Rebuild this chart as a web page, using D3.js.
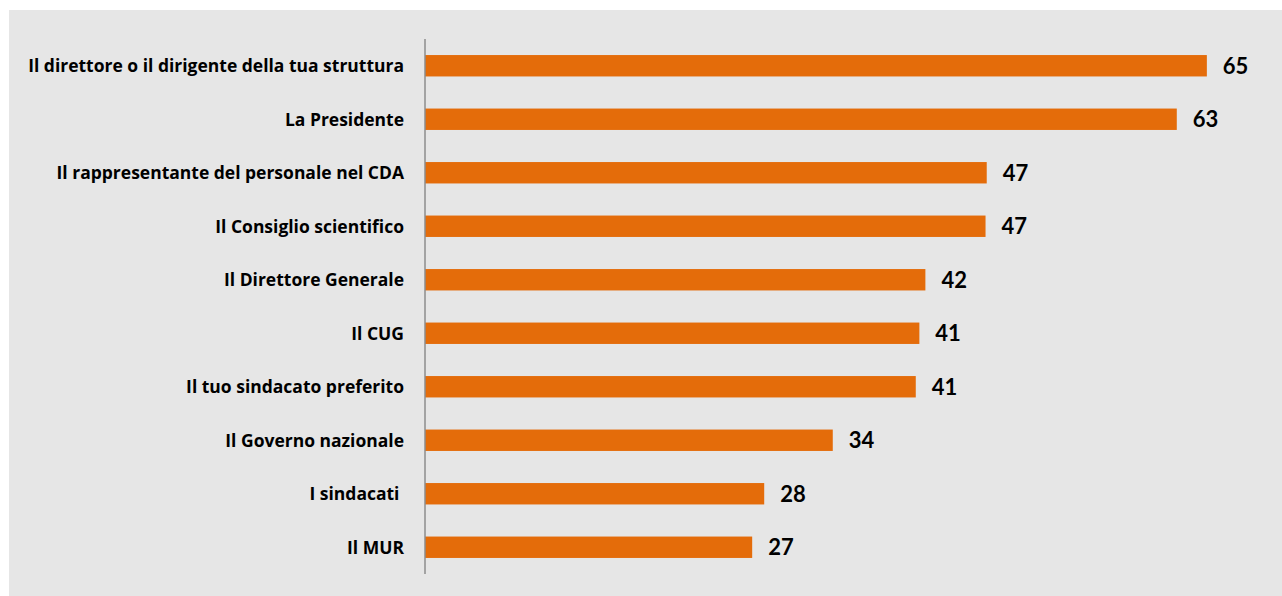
<!DOCTYPE html>
<html>
<head>
<meta charset="utf-8">
<script src="https://cdn.jsdelivr.net/npm/d3@7"></script>
<style>
  html, body { margin: 0; padding: 0; background: #fff; }
  svg { display: block; }
  text { font-weight: bold; fill: #000; }
  .cat { font-family: "Open Sans", sans-serif; white-space: pre; }
  .val { font-family: Lato, sans-serif; }
</style>
</head>
<body>
<svg id="chart" width="1282" height="596"></svg>
<script>
// Categories and values (top to bottom)
const categories = [
  "Il direttore o il dirigente della tua struttura",
  "La Presidente",
  "Il rappresentante del personale nel CDA",
  "Il Consiglio scientifico",
  "Il Direttore Generale",
  "Il CUG",
  "Il tuo sindacato preferito",
  "Il Governo nazionale",
  "I sindacati ",
  "Il MUR"
];
// bar lengths (labels are rounded)
const values = [65.0, 62.5, 46.7, 46.6, 41.6, 41.1, 40.8, 33.9, 28.2, 27.2];

const svg = d3.select("#chart");

// gray panel
svg.append("rect")
  .attr("x", 9).attr("y", 10)
  .attr("width", 1282).attr("height", 600)
  .attr("fill", "#e6e6e6");

const axisX = 425;
const x = d3.scaleLinear().domain([0, 70]).range([axisX, axisX + 842]);
const y = d3.scaleBand()
  .domain(categories)
  .range([39, 574])
  .paddingInner(0.6)
  .paddingOuter(0.3);

const data = categories.map((c, i) => ({ label: c, value: values[i] }));

// bars
svg.selectAll(".bar")
  .data(data)
  .enter().append("rect")
  .attr("class", "bar")
  .attr("x", x(0))
  .attr("y", d => y(d.label))
  .attr("width", d => x(d.value) - x(0))
  .attr("height", y.bandwidth())
  .attr("fill", "#e46c0a");

// value labels
svg.selectAll(".val")
  .data(data)
  .enter().append("text")
  .attr("class", "val")
  .attr("x", d => x(d.value) + 16)
  .attr("y", d => y(d.label) + y.bandwidth() / 2)
  .attr("dy", "0.36em")
  .attr("font-size", 22)
  .text(d => Math.round(d.value));

// category labels
const cats = svg.selectAll(".cat")
  .data(data)
  .enter().append("text")
  .attr("class", "cat")
  .attr("x", 404)
  .attr("y", d => y(d.label) + y.bandwidth() / 2)
  .attr("dy", "0.36em")
  .attr("text-anchor", "end")
  .attr("font-size", 16)
  .text(d => d.label);

// fit the longest label to the width seen in the reference (~376px)
const w0 = cats.node().getComputedTextLength();
cats.attr("font-size", 16 * 376 / w0);

// vertical axis line
svg.append("line")
  .attr("x1", axisX).attr("x2", axisX)
  .attr("y1", 39).attr("y2", 574)
  .attr("stroke", "#8c8c8c")
  .attr("stroke-width", 1.5);
</script>
</body>
</html>
